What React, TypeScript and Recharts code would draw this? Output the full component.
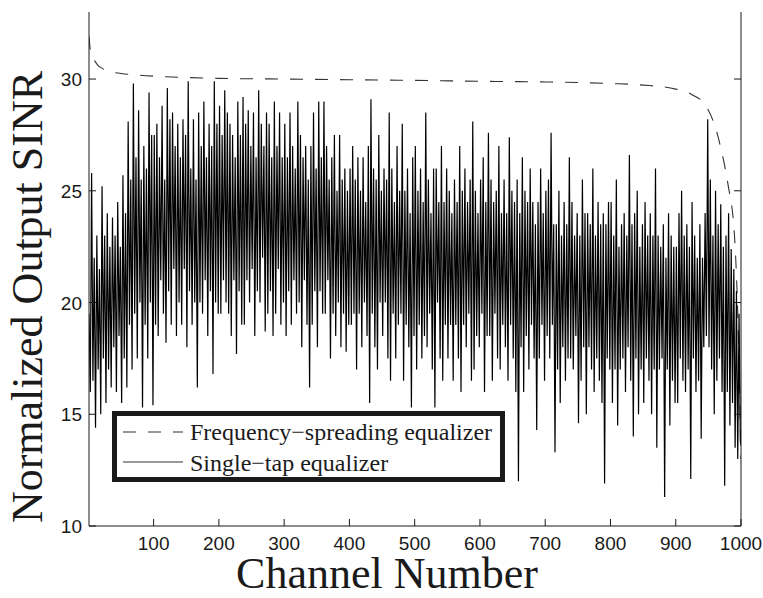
import React from "react"
import { LineChart, Line, XAxis, YAxis, Legend, Label } from "recharts"

const SPREAD_NAME = "Frequency\u2212spreading equalizer"
const TAP_NAME = "Single\u2212tap equalizer"

const spreadChannels = [1, 3, 6, 10, 15, 20, 30, 50, 75, 100, 150, 200, 300, 400, 500, 600, 700, 800, 850, 900, 925, 945, 960, 970, 980, 990, 995, 1000]
const spreadSinr = [31.9, 31.3, 31.0, 30.8, 30.6, 30.5, 30.35, 30.25, 30.18, 30.13, 30.07, 30.03, 30.0, 29.97, 29.94, 29.9, 29.87, 29.8, 29.73, 29.55, 29.3, 28.85, 27.9, 26.8, 25.3, 23.0, 19.5, 13.0]

// single-tap equalizer, every 2nd channel (1, 3, 5, ... 999) and then 1000
const tapSinr = [
  // 1 - 99
  19.5, 16.0, 25.8, 16.5, 22.0, 14.4, 23.0, 17.0, 21.5, 15.0, 25.2, 17.5, 23.0, 15.5, 24.0, 17.0, 22.5, 16.2, 23.8, 18.0, 23.0, 16.0, 24.5, 18.5, 22.5,
  15.5, 25.7, 17.5, 24.0, 16.2, 28.1, 19.0, 25.5, 17.0, 29.8, 19.5, 26.5, 17.5, 28.6, 20.0, 25.5, 15.3, 27.0, 19.0, 26.0, 17.5, 29.4, 20.0, 27.5, 15.4,
  // 101 - 199
  27.5, 19.0, 28.0, 18.5, 26.5, 21.0, 28.8, 19.5, 25.5, 18.2, 29.6, 20.5, 28.2, 19.0, 28.5, 21.5, 27.0, 18.5, 28.0, 20.0, 26.5, 19.0, 28.2, 21.5, 27.5,
  18.0, 29.9, 20.5, 26.0, 19.0, 28.2, 20.0, 25.5, 16.2, 28.5, 20.0, 27.0, 19.5, 29.0, 21.0, 26.5, 18.5, 28.0, 20.5, 27.0, 16.8, 29.9, 20.0, 28.0, 19.5,
  // 201 - 299
  28.8, 19.5, 27.5, 21.0, 29.5, 20.0, 28.5, 19.5, 28.0, 18.5, 27.5, 21.0, 26.5, 17.7, 29.0, 20.5, 27.5, 19.0, 29.2, 19.0, 28.0, 21.0, 28.6, 20.0, 27.0,
  21.5, 28.5, 18.5, 26.5, 20.5, 29.5, 20.0, 28.0, 22.0, 27.0, 18.7, 28.5, 19.5, 28.0, 20.5, 26.5, 18.5, 29.0, 19.5, 27.0, 21.5, 28.5, 19.0, 26.5, 20.0,
  // 301 - 399
  28.0, 18.5, 26.5, 20.5, 28.5, 19.0, 27.0, 21.0, 26.0, 19.5, 29.0, 20.0, 27.5, 18.0, 26.5, 21.0, 27.0, 19.0, 25.5, 16.2, 27.0, 19.0, 28.5, 20.5, 26.0,
  18.0, 29.0, 20.5, 26.5, 19.5, 29.0, 19.5, 27.0, 21.0, 25.5, 17.5, 26.5, 19.5, 27.5, 18.5, 25.0, 20.0, 27.5, 18.0, 25.5, 19.5, 26.0, 17.8, 25.0, 19.0,
  // 401 - 499
  26.0, 19.0, 27.0, 19.5, 25.5, 17.0, 26.5, 19.5, 25.0, 18.0, 26.5, 20.0, 24.5, 18.5, 27.0, 15.5, 29.1, 19.5, 26.0, 18.0, 25.5, 17.0, 27.5, 20.0, 25.0,
  18.5, 26.0, 20.0, 25.5, 17.5, 28.5, 16.5, 26.0, 19.5, 24.5, 17.5, 27.0, 19.0, 25.0, 19.5, 28.0, 16.5, 25.0, 19.0, 26.0, 18.0, 24.0, 15.3, 26.5, 18.5,
  // 501 - 599
  27.0, 17.0, 25.0, 19.0, 26.0, 17.5, 24.5, 18.5, 28.5, 18.0, 25.5, 19.5, 24.0, 17.0, 26.0, 15.3, 26.0, 20.0, 24.5, 17.5, 27.0, 16.5, 24.5, 19.0, 26.0,
  17.5, 25.0, 19.0, 24.0, 16.5, 25.5, 19.0, 24.5, 17.5, 27.0, 16.0, 25.0, 19.0, 26.0, 18.0, 24.5, 19.5, 25.5, 16.5, 28.1, 17.0, 25.0, 18.5, 24.0, 18.0,
  // 601 - 699
  25.5, 19.5, 26.5, 16.0, 24.5, 18.5, 27.6, 18.5, 25.5, 16.5, 24.5, 19.5, 25.0, 17.5, 27.0, 17.0, 24.0, 19.0, 25.5, 18.0, 24.0, 16.5, 27.4, 19.0, 25.0,
  17.5, 24.5, 16.0, 25.5, 12.0, 24.0, 18.0, 26.5, 16.0, 25.0, 18.5, 24.5, 17.0, 26.0, 19.0, 24.5, 17.5, 23.5, 14.3, 24.5, 17.5, 26.0, 19.0, 24.0, 16.5,
  // 701 - 799
  25.0, 18.5, 25.5, 17.5, 27.6, 19.0, 23.5, 13.3, 23.5, 17.0, 25.0, 15.5, 23.0, 18.0, 24.5, 16.5, 23.5, 17.5, 26.5, 17.5, 24.5, 17.0, 23.0, 18.5, 24.0,
  14.6, 23.0, 16.5, 25.5, 18.0, 24.0, 15.0, 24.0, 18.0, 23.5, 17.0, 26.0, 16.0, 23.0, 17.5, 24.5, 16.5, 23.5, 15.5, 24.0, 11.9, 23.5, 17.5, 24.5, 17.0,
  // 801 - 899
  24.5, 15.5, 23.0, 17.0, 25.5, 14.5, 22.5, 17.0, 23.5, 17.5, 24.0, 16.0, 23.0, 18.0, 26.6, 16.5, 23.5, 14.0, 24.0, 17.5, 25.0, 15.0, 22.5, 17.0, 23.5,
  15.5, 24.5, 17.5, 23.0, 16.5, 24.0, 15.0, 23.0, 17.0, 26.0, 13.5, 23.0, 17.0, 22.5, 17.5, 23.5, 11.3, 22.0, 17.0, 24.0, 14.5, 23.0, 16.5, 22.5, 15.5,
  // 901 - 999, 1000
  22.5, 15.5, 24.0, 17.5, 25.0, 16.5, 23.0, 16.0, 23.5, 17.0, 22.5, 12.1, 24.5, 17.5, 23.0, 16.0, 22.0, 16.5, 23.5, 13.9, 22.0, 18.0, 24.0, 18.5, 28.2,
  18.0, 25.5, 17.0, 23.0, 15.0, 25.0, 16.5, 23.5, 17.5, 24.4, 16.0, 22.5, 11.8, 23.0, 16.0, 24.0, 14.5, 22.4, 15.5, 21.5, 13.5, 20.5, 13.0, 19.5, 13.8,
  13.6,
]
const tapChannels = tapSinr.map((_, i) => Math.min(1 + i * 2, 1000))

const xTicks = [100, 200, 300, 400, 500, 600, 700, 800, 900, 1000]
const yTicks = [10, 15, 20, 25, 30]

const spreadData = spreadChannels.map((ch, i) => ({ ch, sinr: spreadSinr[i] }))
const tapData = tapChannels.map((ch, i) => ({ ch, sinr: tapSinr[i] }))

const W = 763
const H = 598
const INK = "#1a1a1a"
const SERIF = "'Liberation Serif', 'Times New Roman', serif"
const SANS = "'Liberation Sans', Arial, Helvetica, sans-serif"
const TICK_LEN = 7

// matlab style ticks point into the box
const BottomTick = ({ x, y, payload }: any) => (
  <g>
    <line x1={x} y1={y} x2={x} y2={y - TICK_LEN} stroke={INK} />
    <text x={x} y={y + 24} textAnchor="middle" fontSize={19} fontFamily={SANS} fill={INK}>
      {payload.value}
    </text>
  </g>
)
const TopTick = ({ x, y }: any) => <line x1={x} y1={y} x2={x} y2={y + TICK_LEN} stroke={INK} />
const LeftTick = ({ x, y, payload }: any) => (
  <g>
    <line x1={x} y1={y} x2={x + TICK_LEN} y2={y} stroke={INK} />
    <text x={x - 7} y={y} dy={7} textAnchor="end" fontSize={19} fontFamily={SANS} fill={INK}>
      {payload.value}
    </text>
  </g>
)
const RightTick = ({ x, y }: any) => <line x1={x} y1={y} x2={x - TICK_LEN} y2={y} stroke={INK} />

const legendDash: Record<string, string | undefined> = {
  [SPREAD_NAME]: "13 12",
  [TAP_NAME]: undefined,
}

const LegendBox = ({ payload }: any) => {
  const items = [...(payload || [])].sort((a: any, b: any) => (a.value === SPREAD_NAME ? -1 : b.value === SPREAD_NAME ? 1 : 0))
  return (
    <div style={{ width: 393, height: 71, boxSizing: "border-box", border: `5px solid ${INK}`, background: "#fff" }}>
      <svg width={383} height={61} style={{ display: "block" }}>
        {items.map((entry: any, i: number) => (
          <g key={entry.value}>
            <line x1={6} x2={66} y1={16 + i * 30} y2={16 + i * 30} stroke="#333" strokeDasharray={legendDash[entry.value]} />
            <text x={73} y={24 + i * 31} fontSize={24} fontFamily={SERIF} fill={INK}>
              {entry.value}
            </text>
          </g>
        ))}
      </svg>
    </div>
  )
}

export default function App() {
  return (
    <div style={{ position: "absolute", left: 0, top: 0, width: W, height: H, background: "#fff" }}>
      <LineChart width={W} height={H} margin={{ top: 12, right: 0, bottom: 0, left: 0 }}>
        <XAxis
          xAxisId={0}
          type="number"
          dataKey="ch"
          domain={[1, 1000]}
          ticks={xTicks}
          allowDataOverflow
          height={72}
          tickSize={0}
          tickMargin={0}
          tickLine={false}
          tick={<BottomTick />}
          axisLine={{ stroke: INK }}
        >
          <Label
            content={() => (
              <text x={387} y={588} textAnchor="middle" fontSize={44} fontFamily={SERIF} fill={INK}>
                Channel Number
              </text>
            )}
          />
        </XAxis>
        <XAxis
          xAxisId="top"
          orientation="top"
          type="number"
          dataKey="ch"
          domain={[1, 1000]}
          ticks={xTicks}
          allowDataOverflow
          height={0}
          tickSize={0}
          tickMargin={0}
          tickLine={false}
          tick={<TopTick />}
          axisLine={{ stroke: INK }}
        />
        <YAxis
          yAxisId={0}
          type="number"
          domain={[10, 33]}
          ticks={yTicks}
          allowDataOverflow
          width={89}
          tickSize={0}
          tickMargin={0}
          tickLine={false}
          tick={<LeftTick />}
          axisLine={{ stroke: INK }}
        >
          <Label
            content={() => (
              <text x={42} y={297} transform="rotate(-90, 42, 297)" textAnchor="middle" fontSize={44} fontFamily={SERIF} fill={INK}>
                Normalized Output SINR
              </text>
            )}
          />
        </YAxis>
        <YAxis
          yAxisId="right"
          orientation="right"
          type="number"
          domain={[10, 33]}
          ticks={yTicks}
          allowDataOverflow
          width={22}
          tickSize={0}
          tickMargin={0}
          tickLine={false}
          tick={<RightTick />}
          axisLine={{ stroke: INK }}
        />
        <Line
          data={spreadData}
          dataKey="sinr"
          name={SPREAD_NAME}
          type="monotone"
          stroke="#333"
          strokeWidth={1.1}
          strokeDasharray="13 12"
          dot={false}
          isAnimationActive={false}
        />
        <Line
          data={tapData}
          dataKey="sinr"
          name={TAP_NAME}
          type="linear"
          stroke="#000"
          strokeWidth={1.2}
          dot={false}
          isAnimationActive={false}
        />
        <Legend
          layout="horizontal"
          align="center"
          verticalAlign="middle"
          content={<LegendBox />}
          wrapperStyle={{ left: 112, top: 411, width: 393, height: 71 }}
        />
      </LineChart>
    </div>
  )
}
